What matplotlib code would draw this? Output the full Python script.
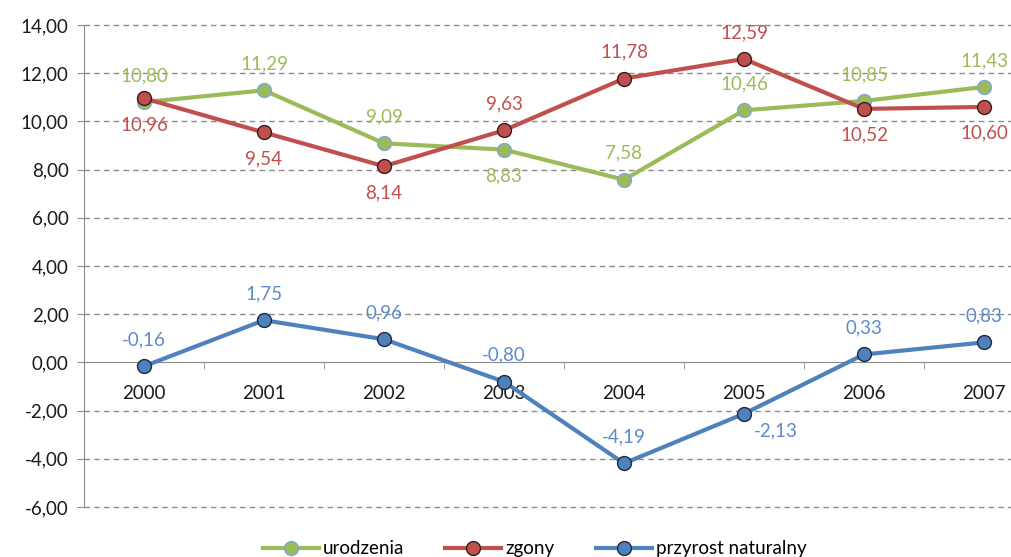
import matplotlib.pyplot as plt
import numpy as np

years = ['2000', '2001', '2002', '2003', '2004', '2005', '2006', '2007']
urodzenia = [10.80, 11.29, 9.09, 8.83, 7.58, 10.46, 10.85, 11.43]
zgony = [10.96, 9.54, 8.14, 9.63, 11.78, 12.59, 10.52, 10.60]
przyrost = [-0.16, 1.75, 0.96, -0.80, -4.19, -2.13, 0.33, 0.83]

# where each data label sits relative to its point
pos_urodzenia = ['up', 'up', 'up', 'down', 'up', 'up', 'up', 'up']
pos_zgony = ['down', 'down', 'down', 'up', 'up', 'up', 'down', 'down']
pos_przyrost = ['up', 'up', 'up', 'up', 'up', 'right', 'up', 'up']

plt.rcParams['font.family'] = ['Lato', 'DejaVu Sans']
FS = 13.5

fig = plt.figure(figsize=(10.12, 5.57), dpi=100)
ax = fig.add_axes([84 / 1012, 50 / 557, 960 / 1012, 482 / 557])

x = np.arange(len(years))

series = [
    ('urodzenia', urodzenia, '#9BBB59', '#7DA7D9', '#9BBB59', pos_urodzenia),
    ('zgony', zgony, '#C0504D', '#3a1a1a', '#C0504D', pos_zgony),
    ('przyrost naturalny', przyrost, '#4F81BD', '#1f2a3a', '#5B8BCB', pos_przyrost),
]

offsets = {'up': (0, 19), 'down': (0, -19), 'right': (23, -12)}

for name, vals, col, edge, tcol, poss in series:
    ax.plot(x, vals, color=col, lw=3, marker='o', ms=10,
            markerfacecolor=col, markeredgecolor=edge, markeredgewidth=1,
            label=name, zorder=3)
    for xi, v, p in zip(x, vals, poss):
        ax.annotate(f"{v:.2f}".replace('.', ','), (xi, v), xytext=offsets[p],
                    textcoords='offset points', ha='center', va='center',
                    color=tcol, fontsize=FS, zorder=4)

ax.set_xlim(-0.5, 7.5)
ax.set_ylim(-6, 14)
yt = np.arange(-6, 15, 2)
ax.set_yticks(yt)
ax.set_yticklabels([f"{v:.2f}".replace('.', ',') for v in yt])
for v in yt:
    if v != 0:
        ax.axhline(v, linestyle=(0, (4, 3)), color='#8c8c8c', lw=1, zorder=1, clip_on=False)

ax.set_xticks(x)
ax.set_xticklabels(years)
ax.set_xticks(np.arange(0.5, 7.5, 1), minor=True)
ax.tick_params(axis='x', which='major', length=0, pad=16, labelsize=FS, labelcolor='#1a1a1a')
ax.tick_params(axis='x', which='minor', length=5, color='#8c8c8c', direction='out')
ax.tick_params(axis='y', length=5, color='#8c8c8c', pad=6, labelsize=FS, labelcolor='#1a1a1a')
for lbl in ax.get_xticklabels():
    lbl.set_zorder(5)

ax.spines['bottom'].set_position(('data', 0))
ax.spines['bottom'].set_color('#8c8c8c')
ax.spines['left'].set_color('#8c8c8c')
ax.spines['top'].set_visible(False)
ax.spines['right'].set_visible(False)

fig.legend(loc='center', bbox_to_anchor=(0.528, 0.015), ncol=3, frameon=False,
           fontsize=FS, handlelength=3, columnspacing=2.2, handletextpad=0.2)

fig.savefig('out.png', dpi=100)
